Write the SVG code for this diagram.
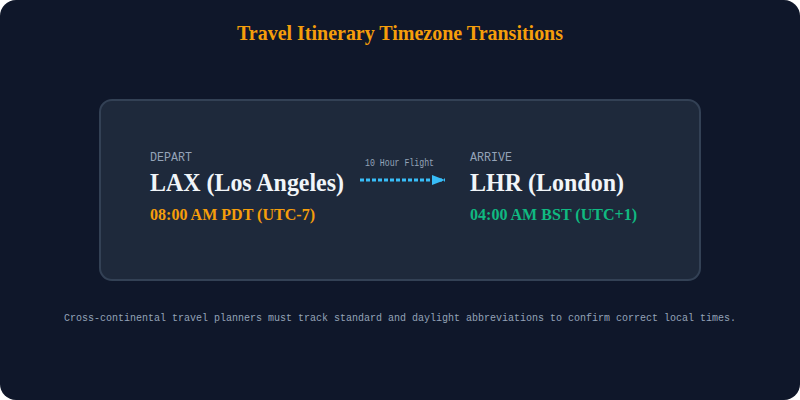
<svg xmlns="http://www.w3.org/2000/svg" width="800" height="400" viewBox="0 0 800 400">
<defs>
<style>
.title{font-family:"Liberation Serif",serif;font-weight:bold;font-size:21px;fill:#f59e0b}
.lbl{font-family:"Liberation Mono",monospace;font-size:13px;fill:#94a3b8}
.city{font-family:"Liberation Serif",serif;font-weight:bold;font-size:26px;fill:#f1f5f9}
.time{font-family:"Liberation Serif",serif;font-weight:bold;font-size:17px}
.small{font-family:"Liberation Mono",monospace;font-size:10.5px;fill:#94a3b8}
.foot{font-family:"Liberation Mono",monospace;font-size:10px;fill:#94a3b8}
</style>
<marker id="ah" markerWidth="13" markerHeight="10" refX="13" refY="5" orient="auto" markerUnits="userSpaceOnUse">
<path d="M0,0 L13,5 L0,10 Z" fill="#38bdf8"/>
</marker>
</defs>
<rect x="0" y="0" width="800" height="400" rx="16" fill="#0f172a"/>
<text class="title" x="237" y="40" textLength="326" lengthAdjust="spacingAndGlyphs">Travel Itinerary Timezone Transitions</text>
<rect x="100" y="100" width="600" height="180" rx="12" fill="#1e293b" stroke="#334155" stroke-width="2"/>
<g id="depart">
<text class="lbl" x="150" y="161" textLength="42" lengthAdjust="spacingAndGlyphs">DEPART</text>
<text class="city" x="150" y="191" textLength="194" lengthAdjust="spacingAndGlyphs">LAX (Los Angeles)</text>
<text class="time" x="150" y="220" fill="#f59e0b" textLength="165" lengthAdjust="spacingAndGlyphs">08:00 AM PDT (UTC-7)</text>
</g>
<g id="arrive">
<text class="lbl" x="470" y="161" textLength="42" lengthAdjust="spacingAndGlyphs">ARRIVE</text>
<text class="city" x="470" y="191" textLength="154" lengthAdjust="spacingAndGlyphs">LHR (London)</text>
<text class="time" x="470" y="220" fill="#10b981" textLength="167" lengthAdjust="spacingAndGlyphs">04:00 AM BST (UTC+1)</text>
</g>
<g id="connectors">
<line x1="360" y1="180" x2="445" y2="180" stroke="#38bdf8" stroke-width="3" stroke-dasharray="4,2" marker-end="url(#ah)"/>
<text class="small" x="365" y="166" textLength="69" lengthAdjust="spacingAndGlyphs">10 Hour Flight</text>
</g>
<text class="foot" x="400" y="321" text-anchor="middle">Cross-continental travel planners must track standard and daylight abbreviations to confirm correct local times.</text>
</svg>
